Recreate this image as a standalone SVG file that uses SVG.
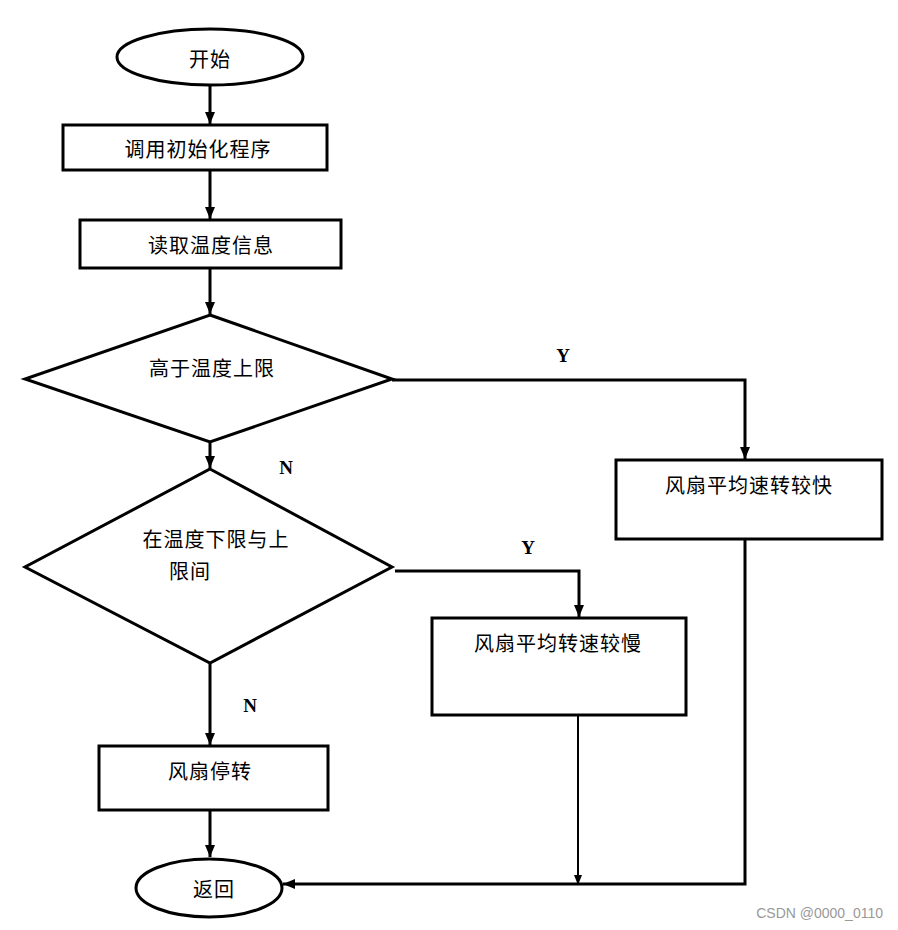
<svg xmlns="http://www.w3.org/2000/svg" width="898" height="930" viewBox="0 0 898 930">
<style>
.shape{fill:#fff;stroke:#000;stroke-width:3}
.line{fill:none;stroke:#000;stroke-width:3}
.thin{fill:none;stroke:#000;stroke-width:2}
.t{font-family:"Noto Sans CJK SC","Noto Sans",sans-serif;font-size:20px;fill:#000;text-anchor:middle;dominant-baseline:central;letter-spacing:1px}
.yn{font-family:"Liberation Serif",serif;font-size:19px;font-weight:bold;fill:#000;text-anchor:middle;dominant-baseline:central}
.wm{font-family:"Liberation Sans",sans-serif;font-size:14px;fill:#999;text-anchor:end}
</style>
<defs>
<marker id="arr" markerUnits="userSpaceOnUse" markerWidth="12" markerHeight="12" viewBox="0 0 12 12" refX="12" refY="6" orient="auto">
<path d="M0,1 L12,6 L0,11 Z" fill="#000"/>
</marker>
<marker id="arrs" markerUnits="userSpaceOnUse" markerWidth="10" markerHeight="10" viewBox="0 0 10 10" refX="10" refY="5" orient="auto">
<path d="M0,1 L10,5 L0,9 Z" fill="#000"/>
</marker>
</defs>
<g id="connectors">
<line class="line" x1="210" y1="86" x2="210" y2="124" marker-end="url(#arr)"/>
<line class="line" x1="210" y1="171" x2="210" y2="219" marker-end="url(#arr)"/>
<line class="line" x1="210" y1="269" x2="210" y2="314" marker-end="url(#arr)"/>
<line class="line" x1="210" y1="443" x2="210" y2="468" marker-end="url(#arr)"/>
<line class="line" x1="210" y1="664" x2="210" y2="745" marker-end="url(#arr)"/>
<line class="line" x1="210" y1="811" x2="210" y2="857" marker-end="url(#arr)"/>
<polyline class="line" points="392,380 745,380 745,459" marker-end="url(#arr)"/>
<polyline class="line" points="395,571 579,571 579,617" marker-end="url(#arr)"/>
<polyline class="line" points="745,540 745,884 283,884" marker-end="url(#arr)"/>
<line class="thin" x1="578" y1="716" x2="578" y2="885" marker-end="url(#arrs)"/>
</g>
<g id="start">
<ellipse class="shape" cx="210" cy="57" rx="93" ry="28"/>
<text class="t" x="210" y="58">开始</text>
</g>
<g id="init">
<rect class="shape" x="63" y="125" width="264" height="45"/>
<text class="t" x="198" y="148">调用初始化程序</text>
</g>
<g id="read">
<rect class="shape" x="80" y="220" width="261" height="48"/>
<text class="t" x="211" y="244">读取温度信息</text>
</g>
<g id="d1">
<polygon class="shape" points="210,315 392,379 210,442 25,379"/>
<text class="t" x="212" y="367">高于温度上限</text>
</g>
<g id="d2">
<polygon class="shape" points="210,469 392,567 210,663 25,567"/>
<text class="t" x="216" y="538">在温度下限与上</text>
<text class="t" x="190" y="570">限间</text>
</g>
<g id="fast">
<rect class="shape" x="616" y="460" width="266" height="79"/>
<text class="t" x="749" y="484">风扇平均速转较快</text>
</g>
<g id="slow">
<rect class="shape" x="432" y="618" width="254" height="97"/>
<text class="t" x="558" y="642">风扇平均转速较慢</text>
</g>
<g id="stop">
<rect class="shape" x="99" y="746" width="229" height="64"/>
<text class="t" x="210" y="770">风扇停转</text>
</g>
<g id="return">
<ellipse class="shape" cx="209" cy="888" rx="73" ry="29"/>
<text class="t" x="214" y="888">返回</text>
</g>
<g id="labels">
<text class="yn" x="563" y="355">Y</text>
<text class="yn" x="286" y="467">N</text>
<text class="yn" x="528" y="547">Y</text>
<text class="yn" x="250" y="705">N</text>
</g>
<text class="wm" x="883" y="918">CSDN @0000_0110</text>
</svg>
